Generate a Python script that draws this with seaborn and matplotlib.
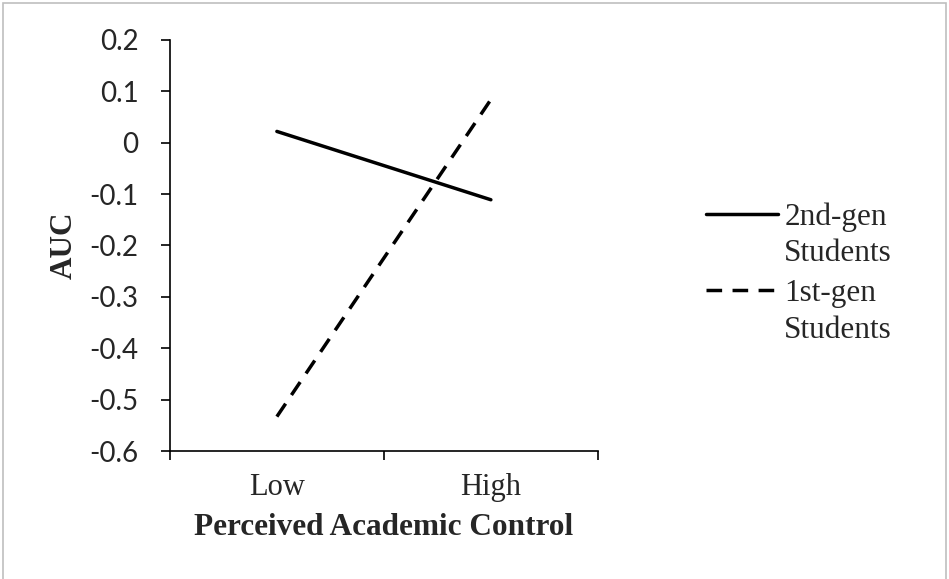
import matplotlib
matplotlib.use("Agg")
import matplotlib.pyplot as plt
import seaborn as sns
import pandas as pd
from matplotlib.lines import Line2D
from matplotlib.patches import Rectangle

categories = ["Low", "High"]
second_gen = [0.022, -0.111]
first_gen = [-0.533, 0.084]
series_names = ["2nd-gen Students", "1st-gen Students"]
y_ticks = [-0.6, -0.5, -0.4, -0.3, -0.2, -0.1, 0, 0.1, 0.2]
y_tick_labels = ["-0.6", "-0.5", "-0.4", "-0.3", "-0.2", "-0.1", "0", "0.1", "0.2"]

df = pd.DataFrame({
    "x": list(range(len(categories))) * 2,
    "AUC": second_gen + first_gen,
    "group": [series_names[0]] * 2 + [series_names[1]] * 2,
})

sns.set_style("white")
serif = ["Liberation Serif", "DejaVu Serif"]
sans = ["Lato", "DejaVu Sans"]
DASH = (4.5, 3)

fig = plt.figure(figsize=(9.49, 5.79), dpi=100)
ax = fig.add_axes([0.179, 0.221, 0.451, 0.710])

sns.lineplot(data=df, x="x", y="AUC", style="group", style_order=series_names,
             dashes={series_names[0]: "", series_names[1]: DASH},
             color="black", linewidth=2.5, legend=False, ax=ax)

ax.set_xlim(-0.5, 1.5)
ax.set_ylim(-0.6, 0.2)
ax.set_yticks(y_ticks)
ax.set_yticklabels(y_tick_labels, fontfamily=sans, fontsize=20)
ax.set_xticks([-0.5, 0.5, 1.5])
ax.set_xticklabels([])
ax.set_xticks([0, 1], minor=True)
ax.set_xticklabels(categories, minor=True, fontfamily=serif, fontsize=22)
ax.tick_params(axis="x", which="major", direction="out", length=6.5, width=1.2, color="black", bottom=True)
ax.tick_params(axis="x", which="minor", length=0, pad=16)
ax.tick_params(axis="y", direction="out", length=6.5, width=1.2, color="black", left=True, pad=16)

for s in ["top", "right"]:
    ax.spines[s].set_visible(False)
for s in ["left", "bottom"]:
    ax.spines[s].set_color("black")
    ax.spines[s].set_linewidth(1.2)

ax.set_xlabel("Perceived Academic Control", fontfamily=serif, fontweight="bold", fontsize=22.5, labelpad=8)
ax.set_ylabel("AUC", fontfamily=serif, fontweight="bold", fontsize=22.5, labelpad=8)

leg_kw = dict(loc="upper left", frameon=False, prop={"family": serif, "size": 22.5},
              handlelength=2.3, handletextpad=0.2, labelspacing=0.25, borderaxespad=0, borderpad=0)
blank = Line2D([], [], color="none")
leg1 = fig.legend([Line2D([], [], color="black", lw=2.5), blank], ["2nd-gen", "Students"],
                  bbox_to_anchor=(0.744, 0.651), **leg_kw)
leg2 = fig.legend([Line2D([], [], color="black", lw=2.5, dashes=DASH), blank], ["1st-gen", "Students"],
                  bbox_to_anchor=(0.744, 0.518), **leg_kw)

fig.patches.append(Rectangle((0.003, -0.01), 0.994, 1.005, transform=fig.transFigure,
                             fill=False, edgecolor="#bfbfbf", linewidth=1.2))

fig.savefig("out.png", dpi=100)
